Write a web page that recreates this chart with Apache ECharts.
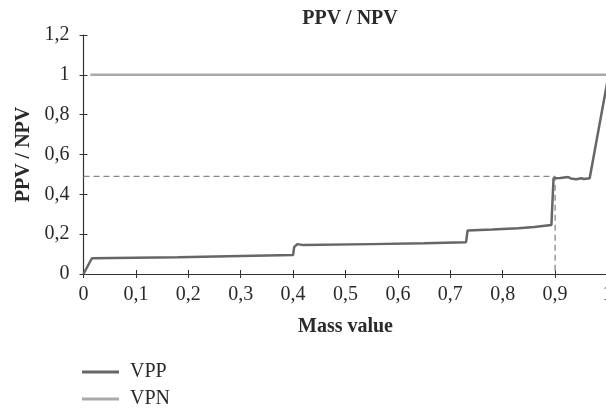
<!DOCTYPE html>
<html>
<head>
<meta charset="utf-8">
<script src="https://cdn.jsdelivr.net/npm/echarts@6/dist/echarts.min.js"></script>
<style>
  html, body { margin: 0; padding: 0; background: #fff; overflow: hidden; }
  /* a bit bigger than the window: the plot runs off the right edge like the original */
  #main { width: 620px; height: 430px; }
</style>
</head>
<body>
<div id="main"></div>
<script>
// mass value / PPV points
var vppX = [0, 0.016, 0.18, 0.182, 0.30, 0.400, 0.402, 0.408, 0.42, 0.55, 0.65, 0.730, 0.733, 0.78, 0.83, 0.86, 0.893, 0.897, 0.91, 0.925, 0.93, 0.94, 0.95, 0.955, 0.966, 1.0];
var vppY = [0, 0.079, 0.084, 0.088, 0.091, 0.095, 0.135, 0.150, 0.145, 0.150, 0.154, 0.159, 0.219, 0.224, 0.230, 0.236, 0.246, 0.481, 0.482, 0.487, 0.480, 0.476, 0.481, 0.477, 0.481, 0.97];
var vpnX = [0.013, 1.0];
var vpnY = [1, 1];
// dashed guide: PPV 0,49 reached at mass value 0,9
var guideX = [0, 0.9, 0.9];
var guideY = [0.49, 0.49, 0];

function pairs(xs, ys) {
    var out = [];
    for (var i = 0; i < xs.length; i++) out.push([xs[i], ys[i]]);
    return out;
}
function comma(v) {
    return String(Math.round(v * 10) / 10).replace('.', ',');
}

var font = 'Liberation Serif';
var axisColor = '#333';
var textColor = '#2a2a2a';

var myChart = echarts.init(document.getElementById('main'));
var option = {
    animation: false,
    textStyle: { fontFamily: font },
    title: {
        text: 'PPV / NPV',
        left: 345,
        textAlign: 'center',
        top: 4,
        textStyle: { fontFamily: font, fontSize: 20, fontWeight: 'bold', color: textColor }
    },
    legend: {
        orient: 'vertical',
        left: 82,
        top: 362,
        padding: 0,
        icon: 'rect',
        itemWidth: 37,
        itemHeight: 3,
        itemGap: 7,
        textStyle: { fontFamily: font, fontSize: 20, color: textColor, padding: [0, 0, 0, 6] },
        data: ['VPP', 'VPN']
    },
    grid: { left: 83.5, right: 12.5, top: 35, bottom: 156, containLabel: false },
    xAxis: [{
        type: 'value',
        min: 0, max: 1, interval: 0.1,
        name: 'Mass value',
        nameLocation: 'middle',
        nameGap: 43,
        nameTextStyle: { fontFamily: font, fontSize: 20, fontWeight: 'bold', color: textColor },
        axisLine: { lineStyle: { color: axisColor, width: 1.2 } },
        axisTick: { show: true, length: 4, lineStyle: { color: axisColor } },
        axisLabel: { fontFamily: font, fontSize: 20, color: textColor, margin: 11, formatter: comma },
        splitLine: { show: false }
    }, {
        // inner half of the crossing ticks
        type: 'value',
        position: 'bottom',
        min: 0, max: 1, interval: 0.1,
        axisLine: { show: false },
        axisTick: { show: true, inside: true, length: 4, lineStyle: { color: axisColor } },
        axisLabel: { show: false },
        splitLine: { show: false }
    }],
    yAxis: [{
        type: 'value',
        min: 0, max: 1.2, interval: 0.2,
        name: 'PPV / NPV',
        nameLocation: 'middle',
        nameGap: 46,
        nameTextStyle: { fontFamily: font, fontSize: 20, fontWeight: 'bold', color: textColor },
        axisLine: { show: true, lineStyle: { color: axisColor, width: 1.2 } },
        axisTick: { show: true, length: 4, lineStyle: { color: axisColor } },
        axisLabel: { fontFamily: font, fontSize: 20, color: textColor, margin: 14, formatter: comma },
        splitLine: { show: false }
    }, {
        type: 'value',
        position: 'left',
        min: 0, max: 1.2, interval: 0.2,
        axisLine: { show: false },
        axisTick: { show: true, inside: true, length: 4, lineStyle: { color: axisColor } },
        axisLabel: { show: false },
        splitLine: { show: false }
    }],
    series: [
        {
            name: 'guide',
            type: 'line',
            symbol: 'none',
            silent: true,
            lineStyle: { color: '#888', width: 1.3, type: [6, 4] },
            data: pairs(guideX, guideY)
        },
        {
            name: 'VPN',
            type: 'line',
            symbol: 'none',
            lineStyle: { color: '#aaa', width: 2.5 },
            itemStyle: { color: '#aaa' },
            data: pairs(vpnX, vpnY)
        },
        {
            name: 'VPP',
            type: 'line',
            symbol: 'none',
            lineStyle: { color: '#666', width: 2.5 },
            itemStyle: { color: '#666' },
            data: pairs(vppX, vppY)
        }
    ]
};
myChart.setOption(option);
</script>
</body>
</html>
